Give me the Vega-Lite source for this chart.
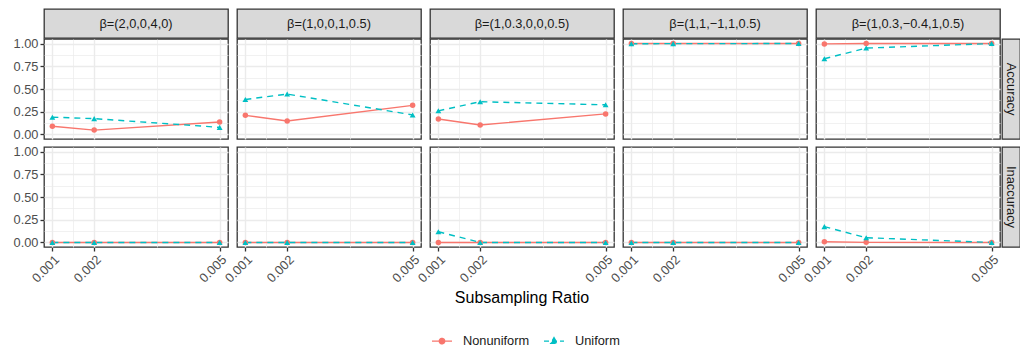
{
  "$schema": "https://vega.github.io/schema/vega-lite/v6.json",
  "padding": {"left": 13, "top": 8, "right": 0, "bottom": 0},
  "background": "white",
  "spacing": -3,
  "config": {
    "font": "Liberation Sans",
    "concat": {"spacing": 0},
    "view": {"stroke": null},
    "axis": {
      "labelFont": "Liberation Sans",
      "labelFontSize": 12.8,
      "labelColor": "#4D4D4D",
      "tickColor": "#333333",
      "tickSize": 4,
      "tickWidth": 1.3,
      "domain": false,
      "gridColor": "#EBEBEB",
      "titleFont": "Liberation Sans",
      "titleFontSize": 16,
      "titleFontWeight": "normal",
      "titleColor": "#000000"
    }
  },
  "datasets": {
    "strips": [
      {"beta": "β=(2,0,0,4,0)"},
      {"beta": "β=(1,0,0,1,0.5)"},
      {"beta": "β=(1,0.3,0,0,0.5)"},
      {"beta": "β=(1,1,−1,1,0.5)"},
      {"beta": "β=(1,0.3,−0.4,1,0.5)"}
    ],
    "rows": [
      {"metric": "Accuracy"},
      {"metric": "Inaccuracy"}
    ],
    "results": [
      {"beta": "β=(2,0,0,4,0)", "metric": "Accuracy", "method": "Nonuniform", "ratio": 0.001, "value": 0.09},
      {"beta": "β=(2,0,0,4,0)", "metric": "Accuracy", "method": "Nonuniform", "ratio": 0.002, "value": 0.048},
      {"beta": "β=(2,0,0,4,0)", "metric": "Accuracy", "method": "Nonuniform", "ratio": 0.005, "value": 0.137},
      {"beta": "β=(2,0,0,4,0)", "metric": "Accuracy", "method": "Uniform", "ratio": 0.001, "value": 0.19},
      {"beta": "β=(2,0,0,4,0)", "metric": "Accuracy", "method": "Uniform", "ratio": 0.002, "value": 0.174},
      {"beta": "β=(2,0,0,4,0)", "metric": "Accuracy", "method": "Uniform", "ratio": 0.005, "value": 0.078},
      {"beta": "β=(1,0,0,1,0.5)", "metric": "Accuracy", "method": "Nonuniform", "ratio": 0.001, "value": 0.21},
      {"beta": "β=(1,0,0,1,0.5)", "metric": "Accuracy", "method": "Nonuniform", "ratio": 0.002, "value": 0.148},
      {"beta": "β=(1,0,0,1,0.5)", "metric": "Accuracy", "method": "Nonuniform", "ratio": 0.005, "value": 0.32},
      {"beta": "β=(1,0,0,1,0.5)", "metric": "Accuracy", "method": "Uniform", "ratio": 0.001, "value": 0.385},
      {"beta": "β=(1,0,0,1,0.5)", "metric": "Accuracy", "method": "Uniform", "ratio": 0.002, "value": 0.444},
      {"beta": "β=(1,0,0,1,0.5)", "metric": "Accuracy", "method": "Uniform", "ratio": 0.005, "value": 0.215},
      {"beta": "β=(1,0.3,0,0,0.5)", "metric": "Accuracy", "method": "Nonuniform", "ratio": 0.001, "value": 0.17},
      {"beta": "β=(1,0.3,0,0,0.5)", "metric": "Accuracy", "method": "Nonuniform", "ratio": 0.002, "value": 0.104},
      {"beta": "β=(1,0.3,0,0,0.5)", "metric": "Accuracy", "method": "Nonuniform", "ratio": 0.005, "value": 0.226},
      {"beta": "β=(1,0.3,0,0,0.5)", "metric": "Accuracy", "method": "Uniform", "ratio": 0.001, "value": 0.26},
      {"beta": "β=(1,0.3,0,0,0.5)", "metric": "Accuracy", "method": "Uniform", "ratio": 0.002, "value": 0.36},
      {"beta": "β=(1,0.3,0,0,0.5)", "metric": "Accuracy", "method": "Uniform", "ratio": 0.005, "value": 0.326},
      {"beta": "β=(1,1,−1,1,0.5)", "metric": "Accuracy", "method": "Nonuniform", "ratio": 0.001, "value": 1.0},
      {"beta": "β=(1,1,−1,1,0.5)", "metric": "Accuracy", "method": "Nonuniform", "ratio": 0.002, "value": 1.0},
      {"beta": "β=(1,1,−1,1,0.5)", "metric": "Accuracy", "method": "Nonuniform", "ratio": 0.005, "value": 1.0},
      {"beta": "β=(1,1,−1,1,0.5)", "metric": "Accuracy", "method": "Uniform", "ratio": 0.001, "value": 0.998},
      {"beta": "β=(1,1,−1,1,0.5)", "metric": "Accuracy", "method": "Uniform", "ratio": 0.002, "value": 0.999},
      {"beta": "β=(1,1,−1,1,0.5)", "metric": "Accuracy", "method": "Uniform", "ratio": 0.005, "value": 1.0},
      {"beta": "β=(1,0.3,−0.4,1,0.5)", "metric": "Accuracy", "method": "Nonuniform", "ratio": 0.001, "value": 0.996},
      {"beta": "β=(1,0.3,−0.4,1,0.5)", "metric": "Accuracy", "method": "Nonuniform", "ratio": 0.002, "value": 1.0},
      {"beta": "β=(1,0.3,−0.4,1,0.5)", "metric": "Accuracy", "method": "Nonuniform", "ratio": 0.005, "value": 1.0},
      {"beta": "β=(1,0.3,−0.4,1,0.5)", "metric": "Accuracy", "method": "Uniform", "ratio": 0.001, "value": 0.833},
      {"beta": "β=(1,0.3,−0.4,1,0.5)", "metric": "Accuracy", "method": "Uniform", "ratio": 0.002, "value": 0.95},
      {"beta": "β=(1,0.3,−0.4,1,0.5)", "metric": "Accuracy", "method": "Uniform", "ratio": 0.005, "value": 1.0},
      {"beta": "β=(2,0,0,4,0)", "metric": "Inaccuracy", "method": "Nonuniform", "ratio": 0.001, "value": 0},
      {"beta": "β=(2,0,0,4,0)", "metric": "Inaccuracy", "method": "Nonuniform", "ratio": 0.002, "value": 0},
      {"beta": "β=(2,0,0,4,0)", "metric": "Inaccuracy", "method": "Nonuniform", "ratio": 0.005, "value": 0},
      {"beta": "β=(2,0,0,4,0)", "metric": "Inaccuracy", "method": "Uniform", "ratio": 0.001, "value": 0},
      {"beta": "β=(2,0,0,4,0)", "metric": "Inaccuracy", "method": "Uniform", "ratio": 0.002, "value": 0},
      {"beta": "β=(2,0,0,4,0)", "metric": "Inaccuracy", "method": "Uniform", "ratio": 0.005, "value": 0},
      {"beta": "β=(1,0,0,1,0.5)", "metric": "Inaccuracy", "method": "Nonuniform", "ratio": 0.001, "value": 0},
      {"beta": "β=(1,0,0,1,0.5)", "metric": "Inaccuracy", "method": "Nonuniform", "ratio": 0.002, "value": 0},
      {"beta": "β=(1,0,0,1,0.5)", "metric": "Inaccuracy", "method": "Nonuniform", "ratio": 0.005, "value": 0},
      {"beta": "β=(1,0,0,1,0.5)", "metric": "Inaccuracy", "method": "Uniform", "ratio": 0.001, "value": 0},
      {"beta": "β=(1,0,0,1,0.5)", "metric": "Inaccuracy", "method": "Uniform", "ratio": 0.002, "value": 0},
      {"beta": "β=(1,0,0,1,0.5)", "metric": "Inaccuracy", "method": "Uniform", "ratio": 0.005, "value": 0},
      {"beta": "β=(1,0.3,0,0,0.5)", "metric": "Inaccuracy", "method": "Nonuniform", "ratio": 0.001, "value": 0},
      {"beta": "β=(1,0.3,0,0,0.5)", "metric": "Inaccuracy", "method": "Nonuniform", "ratio": 0.002, "value": 0},
      {"beta": "β=(1,0.3,0,0,0.5)", "metric": "Inaccuracy", "method": "Nonuniform", "ratio": 0.005, "value": 0},
      {"beta": "β=(1,0.3,0,0,0.5)", "metric": "Inaccuracy", "method": "Uniform", "ratio": 0.001, "value": 0.118},
      {"beta": "β=(1,0.3,0,0,0.5)", "metric": "Inaccuracy", "method": "Uniform", "ratio": 0.002, "value": 0},
      {"beta": "β=(1,0.3,0,0,0.5)", "metric": "Inaccuracy", "method": "Uniform", "ratio": 0.005, "value": 0},
      {"beta": "β=(1,1,−1,1,0.5)", "metric": "Inaccuracy", "method": "Nonuniform", "ratio": 0.001, "value": 0},
      {"beta": "β=(1,1,−1,1,0.5)", "metric": "Inaccuracy", "method": "Nonuniform", "ratio": 0.002, "value": 0},
      {"beta": "β=(1,1,−1,1,0.5)", "metric": "Inaccuracy", "method": "Nonuniform", "ratio": 0.005, "value": 0},
      {"beta": "β=(1,1,−1,1,0.5)", "metric": "Inaccuracy", "method": "Uniform", "ratio": 0.001, "value": 0},
      {"beta": "β=(1,1,−1,1,0.5)", "metric": "Inaccuracy", "method": "Uniform", "ratio": 0.002, "value": 0},
      {"beta": "β=(1,1,−1,1,0.5)", "metric": "Inaccuracy", "method": "Uniform", "ratio": 0.005, "value": 0},
      {"beta": "β=(1,0.3,−0.4,1,0.5)", "metric": "Inaccuracy", "method": "Nonuniform", "ratio": 0.001, "value": 0.007},
      {"beta": "β=(1,0.3,−0.4,1,0.5)", "metric": "Inaccuracy", "method": "Nonuniform", "ratio": 0.002, "value": 0.001},
      {"beta": "β=(1,0.3,−0.4,1,0.5)", "metric": "Inaccuracy", "method": "Nonuniform", "ratio": 0.005, "value": 0},
      {"beta": "β=(1,0.3,−0.4,1,0.5)", "metric": "Inaccuracy", "method": "Uniform", "ratio": 0.001, "value": 0.174},
      {"beta": "β=(1,0.3,−0.4,1,0.5)", "metric": "Inaccuracy", "method": "Uniform", "ratio": 0.002, "value": 0.052},
      {"beta": "β=(1,0.3,−0.4,1,0.5)", "metric": "Inaccuracy", "method": "Uniform", "ratio": 0.005, "value": 0}
    ]
  },
  "vconcat": [
    {
      "data": {"name": "strips"},
      "facet": {
        "column": {
          "field": "beta",
          "sort": ["β=(2,0,0,4,0)", "β=(1,0,0,1,0.5)", "β=(1,0.3,0,0,0.5)", "β=(1,1,−1,1,0.5)", "β=(1,0.3,−0.4,1,0.5)"],
          "header": null
        }
      },
      "spacing": 9,
      "bounds": "flush",
      "spec": {
        "width": 184,
        "height": 29,
        "view": {"fill": "#D9D9D9", "stroke": "#333333", "strokeWidth": 1.3},
        "mark": {"type": "text", "fontSize": 12.8, "color": "#1A1A1A", "font": "Liberation Sans"},
        "encoding": {"text": {"field": "beta"}}
      }
    },
    {
      "hconcat": [
        {
          "data": {"name": "results"},
          "bounds": "flush",
          "facet": {
            "row": {"field": "metric", "sort": ["Accuracy", "Inaccuracy"], "header": null},
            "column": {
              "field": "beta",
              "title": "Subsampling Ratio",
              "sort": ["β=(2,0,0,4,0)", "β=(1,0,0,1,0.5)", "β=(1,0.3,0,0,0.5)", "β=(1,1,−1,1,0.5)", "β=(1,0.3,−0.4,1,0.5)"],
              "header": {
                "labels": false,
                "titleOrient": "bottom",
                "titleFont": "Liberation Sans",
                "titleFontSize": 16,
                "titleFontWeight": "normal",
                "titleColor": "#000000",
                "titlePadding": -5
              }
            }
          },
          "spacing": {"row": 8, "column": 9},
          "spec": {
            "width": 184,
            "height": 100,
            "view": {"fill": "white", "stroke": "#333333", "strokeWidth": 1.3},
            "encoding": {
              "x": {
                "field": "ratio",
                "type": "quantitative",
                "title": null,
                "scale": {"domain": [0.0008, 0.0052], "nice": false, "zero": false},
                "axis": {
                  "values": [0.001, 0.0015, 0.002, 0.0035, 0.005],
                  "labelExpr": "(datum.value == 0.0015 || datum.value == 0.0035) ? '' : format(datum.value, '.3f')",
                  "labelAngle": -45,
                  "labelAlign": "right",
                  "labelBaseline": "top",
                  "labelPadding": 2,
                  "tickOpacity": {"condition": {"test": "datum.value == 0.0015 || datum.value == 0.0035", "value": 0}, "value": 1},
                  "gridWidth": {"condition": {"test": "datum.value == 0.0015 || datum.value == 0.0035", "value": 0.7}, "value": 1.4}
                }
              },
              "y": {
                "field": "value",
                "type": "quantitative",
                "title": null,
                "scale": {"domain": [-0.05, 1.05], "nice": false, "zero": false},
                "axis": {
                  "values": [0, 0.125, 0.25, 0.375, 0.5, 0.625, 0.75, 0.875, 1],
                  "labelExpr": "(datum.value * 4) % 1 != 0 ? '' : format(datum.value, '.2f')",
                  "labelPadding": 2,
                  "tickOpacity": {"condition": {"test": "(datum.value * 4) % 1 != 0", "value": 0}, "value": 1},
                  "gridWidth": {"condition": {"test": "(datum.value * 4) % 1 != 0", "value": 0.7}, "value": 1.4}
                }
              },
              "color": {
                "field": "method",
                "type": "nominal",
                "scale": {"domain": ["Nonuniform", "Uniform"], "range": ["#F8766D", "#00BFC4"]},
                "legend": {
                  "orient": "none",
                  "legendX": 387,
                  "legendY": 321,
                  "direction": "horizontal",
                  "title": null,
                  "labelFont": "Liberation Sans",
                  "labelFontSize": 12.8,
                  "labelColor": "#1A1A1A",
                  "symbolSize": 400,
                  "labelOffset": 10,
                  "columnPadding": 11,
                  "encode": {
                    "symbols": {
                      "update": {
                        "shape": {"signal": "datum.value === 'Nonuniform' ? 'M-1,0L1,0M-0.27,0A0.27,0.27 0 1,0 0.27,0A0.27,0.27 0 1,0 -0.27,0Z' : 'M-1,0L1,0M0,-0.34L0.32,0.22L-0.32,0.22Z'"},
                        "stroke": {"signal": "datum.value === 'Nonuniform' ? '#F8766D' : '#00BFC4'"},
                        "fill": {"signal": "datum.value === 'Nonuniform' ? '#F8766D' : '#00BFC4'"},
                        "strokeWidth": {"value": 1.4},
                        "strokeDash": {"signal": "datum.value === 'Nonuniform' ? [1, 0] : [5, 3]"},
                        "opacity": {"value": 1}
                      }
                    }
                  }
                }
              }
            },
            "layer": [
              {
                "transform": [{"filter": "datum.method === 'Nonuniform'"}],
                "mark": {"type": "line", "strokeWidth": 1.4}
              },
              {
                "transform": [{"filter": "datum.method === 'Uniform'"}],
                "mark": {"type": "line", "strokeWidth": 1.4, "strokeDash": [6, 5]}
              },
              {
                "transform": [{"filter": "datum.method === 'Nonuniform'"}],
                "mark": {"type": "point", "filled": true, "size": 30, "opacity": 1, "shape": "circle"}
              },
              {
                "transform": [{"filter": "datum.method === 'Uniform'"}],
                "mark": {"type": "point", "filled": true, "size": 34, "opacity": 1, "shape": "triangle-up"}
              }
            ]
          }
        },
        {
          "data": {"name": "rows"},
          "bounds": "flush",
          "facet": {"row": {"field": "metric", "sort": ["Accuracy", "Inaccuracy"], "header": null}},
          "spacing": 8,
          "spec": {
            "width": 18,
            "height": 100,
            "view": {"fill": "#D9D9D9", "stroke": "#333333", "strokeWidth": 1.3},
            "mark": {"type": "text", "angle": 90, "fontSize": 12.8, "color": "#1A1A1A", "font": "Liberation Sans"},
            "encoding": {"text": {"field": "metric"}}
          }
        }
      ]
    }
  ]
}
